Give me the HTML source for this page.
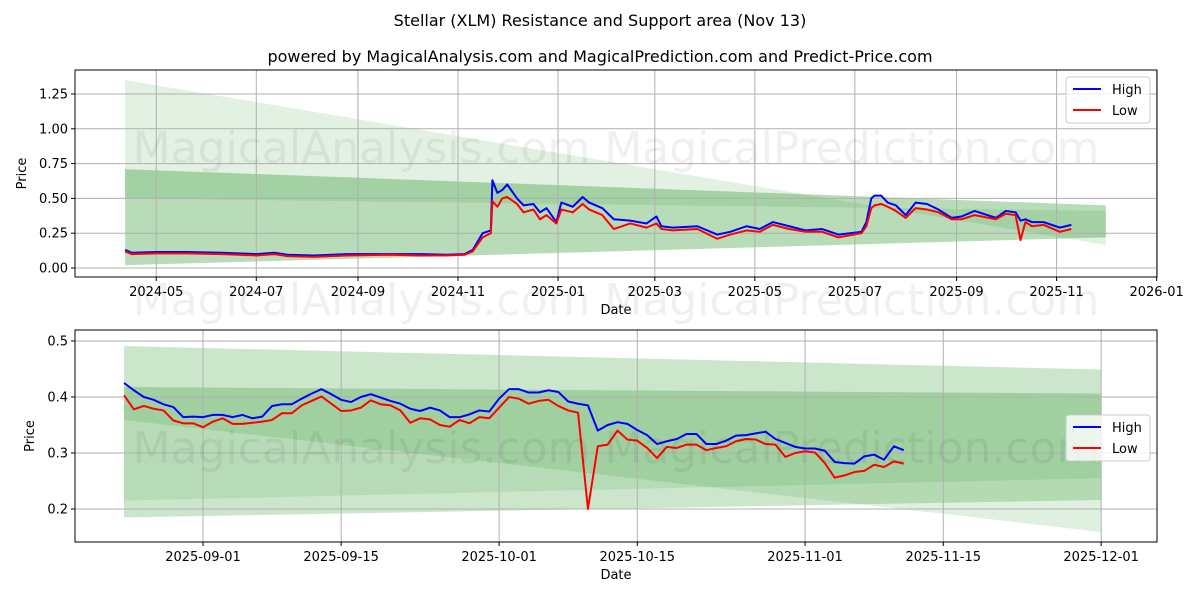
<!DOCTYPE html>
<html><head><meta charset="utf-8"><style>
body{margin:0;background:#fff;width:1200px;height:600px;overflow:hidden;font-family:"Liberation Sans","DejaVu Sans",sans-serif}
svg text{font-family:"DejaVu Sans","Liberation Sans",sans-serif}
</style></head><body>
<svg id="c" width="1200" height="600" xmlns="http://www.w3.org/2000/svg">
<text x="600" y="26" font-size="16" text-anchor="middle">Stellar (XLM) Resistance and Support area (Nov 13)</text>
<text x="600" y="62" font-size="16" text-anchor="middle">powered by MagicalAnalysis.com and MagicalPrediction.com and Predict-Price.com</text>
</svg>
<script>
// ---------- top chart data ----------
const topDates=["2024-04-12","2024-04-16","2024-05-01","2024-05-20","2024-06-10","2024-07-01","2024-07-12","2024-07-20","2024-08-05","2024-08-25","2024-09-20","2024-10-10","2024-10-25","2024-11-05","2024-11-10","2024-11-16","2024-11-21","2024-11-22","2024-11-25","2024-11-28","2024-12-01","2024-12-07","2024-12-11","2024-12-17","2024-12-21","2024-12-25","2024-12-31","2025-01-03","2025-01-10","2025-01-16","2025-01-20","2025-01-28","2025-02-04","2025-02-14","2025-02-24","2025-03-02","2025-03-05","2025-03-12","2025-03-27","2025-04-08","2025-04-16","2025-04-26","2025-05-04","2025-05-12","2025-05-22","2025-06-01","2025-06-11","2025-06-21","2025-07-05","2025-07-08","2025-07-11","2025-07-13","2025-07-17","2025-07-21","2025-07-26","2025-08-01","2025-08-07","2025-08-14","2025-08-21","2025-08-29","2025-09-04","2025-09-12","2025-09-25","2025-10-01","2025-10-07","2025-10-10","2025-10-13","2025-10-17","2025-10-24","2025-11-03","2025-11-10"];
const topHigh=[0.13,0.11,0.115,0.115,0.11,0.10,0.11,0.095,0.09,0.10,0.10,0.10,0.095,0.10,0.13,0.25,0.27,0.63,0.54,0.56,0.60,0.50,0.45,0.46,0.40,0.43,0.33,0.47,0.44,0.51,0.47,0.43,0.35,0.34,0.32,0.37,0.30,0.29,0.30,0.24,0.26,0.30,0.28,0.33,0.30,0.27,0.28,0.24,0.26,0.33,0.50,0.52,0.52,0.47,0.45,0.38,0.47,0.46,0.42,0.36,0.37,0.41,0.36,0.41,0.40,0.34,0.35,0.33,0.33,0.29,0.31];
const topLow=[0.12,0.10,0.105,0.105,0.10,0.09,0.10,0.085,0.08,0.09,0.095,0.09,0.09,0.095,0.12,0.22,0.25,0.48,0.44,0.50,0.51,0.46,0.40,0.42,0.35,0.38,0.32,0.42,0.40,0.46,0.42,0.38,0.28,0.32,0.29,0.32,0.28,0.27,0.28,0.21,0.24,0.27,0.26,0.31,0.28,0.26,0.26,0.22,0.25,0.30,0.43,0.45,0.46,0.44,0.41,0.36,0.43,0.42,0.40,0.35,0.35,0.38,0.35,0.39,0.38,0.20,0.33,0.30,0.31,0.26,0.28];
const topBandDates=["2024-04-12","2025-12-01"];
const topBandATop=[0.71,0.45], topBandABot=[0.02,0.22];
const topBandCL1=[1.35,0.165], topBandCL2=[0.50,0.41];
const topYTicks=[0,0.25,0.5,0.75,1.0,1.25];
const topYLabels=["0.00","0.25","0.50","0.75","1.00","1.25"];
const topXTicks=["2024-05-01","2024-07-01","2024-09-01","2024-11-01","2025-01-01","2025-03-01","2025-05-01","2025-07-01","2025-09-01","2025-11-01","2026-01-01"];
const topXLabels=["2024-05","2024-07","2024-09","2024-11","2025-01","2025-03","2025-05","2025-07","2025-09","2025-11","2026-01"];

// ---------- bottom chart data ----------
const botStart="2025-08-24";
const botHigh=[0.425,0.412,0.400,0.395,0.387,0.382,0.364,0.365,0.364,0.368,0.368,0.364,0.368,0.362,0.365,0.384,0.387,0.387,0.397,0.406,0.414,0.405,0.395,0.391,0.400,0.405,0.399,0.393,0.388,0.379,0.375,0.381,0.376,0.364,0.364,0.369,0.376,0.374,0.397,0.414,0.414,0.408,0.408,0.412,0.409,0.392,0.388,0.385,0.340,0.350,0.355,0.352,0.341,0.332,0.316,0.321,0.325,0.334,0.334,0.316,0.316,0.322,0.331,0.332,0.335,0.338,0.325,0.318,0.311,0.308,0.308,0.304,0.284,0.282,0.281,0.294,0.297,0.288,0.312,0.305];
const botLow=[0.403,0.378,0.384,0.379,0.376,0.358,0.353,0.353,0.346,0.356,0.362,0.352,0.352,0.354,0.356,0.359,0.371,0.371,0.385,0.393,0.401,0.388,0.375,0.376,0.381,0.394,0.387,0.385,0.376,0.354,0.362,0.360,0.350,0.347,0.359,0.353,0.364,0.362,0.381,0.400,0.397,0.388,0.393,0.395,0.384,0.376,0.372,0.200,0.312,0.315,0.340,0.324,0.322,0.309,0.291,0.311,0.309,0.315,0.315,0.305,0.309,0.312,0.321,0.325,0.324,0.316,0.315,0.293,0.300,0.303,0.301,0.282,0.256,0.260,0.266,0.268,0.279,0.275,0.285,0.281];
const botBandDates=["2025-08-24","2025-12-01"];
const botBandATop=[0.491,0.449], botBandABot=[0.185,0.216];
const botBandBTop=[0.418,0.406], botBandBBot=[0.215,0.255];
const botBandCL1=[0.418,0.406], botBandCL2=[0.359,0.159];
const botYTicks=[0.2,0.3,0.4,0.5];
const botYLabels=["0.2","0.3","0.4","0.5"];
const botXTicks=["2025-09-01","2025-09-15","2025-10-01","2025-10-15","2025-11-01","2025-11-15","2025-12-01"];

// ---------- rendering ----------
const svg=document.getElementById('c');
const NS="http://www.w3.org/2000/svg";
const DAY=86400000;
const t=s=>Date.parse(s+"T00:00:00Z");
function mk(tag,attrs,parent){const e=document.createElementNS(NS,tag);for(const k in attrs)e.setAttribute(k,attrs[k]);(parent||svg).appendChild(e);return e;}

function chart(cfg){
  const {L,R,T,B}=cfg;
  const X=d=>cfg.x0+(t(d)-t(cfg.d0))/DAY*cfg.pxDay;
  const Y=v=>cfg.yRef-(v-cfg.vRef)*cfg.pxUnit;
  const g=mk('g',{});
  
  
  const clip=mk('clipPath',{id:cfg.name+'-clip'},g);
  mk('rect',{x:L,y:T,width:R-L,height:B-T},clip);
  const pg=mk('g',{'clip-path':'url(#'+cfg.name+'-clip)'},g);
  const x1=X(cfg.bandDates[0]),x2=X(cfg.bandDates[1]);
  cfg.bands.forEach((b,i)=>{
    const p=mk('polygon',{points:`${x1},${Y(b.top[0])} ${x2},${Y(b.top[1])} ${x2},${Y(b.bot[1])} ${x1},${Y(b.bot[0])}`,fill:'#008000','fill-opacity':b.op},pg);
    
    
  });
  cfg.yTicks.forEach((v,i)=>{
    const y=Y(v);
    mk('line',{x1:L,x2:R,y1:y,y2:y,stroke:'#b0b0b0','stroke-width':1},pg);
    mk('line',{x1:L-4,x2:L,y1:y,y2:y,stroke:'#000'},g);
    const tx=mk('text',{x:L-7,y:y+4.5,'font-size':13,'text-anchor':'end'},g);tx.textContent=cfg.yLabels[i];
    
    
  });
  cfg.xTicks.forEach((d,i)=>{
    const x=X(d);
    mk('line',{x1:x,x2:x,y1:T,y2:B,stroke:'#b0b0b0','stroke-width':1},pg);
    mk('line',{x1:x,x2:x,y1:B,y2:B+4,stroke:'#000'},g);
    const tx=mk('text',{x:x,y:B+19,'font-size':13,'text-anchor':'middle'},g);tx.textContent=cfg.xLabels[i];
    
    
  });
  const wm=mk('text',{x:(L+R)/2,y:cfg.wmY,'font-size':44,'text-anchor':'middle',fill:'#000','fill-opacity':0.06},g);
  wm.textContent="MagicalAnalysis.com   MagicalPrediction.com";
  
  
  const series=[[cfg.high,'#0000ff','high-line'],[cfg.low,'#ff0000','low-line']];
  series.forEach(([vals,col,nm])=>{
    const pts=vals.map((v,i)=>`${X(cfg.dates(i))},${Y(v)}`).join(' ');
    const pl=mk('polyline',{points:pts,fill:'none',stroke:col,'stroke-width':2,'stroke-linejoin':'round'},pg);
    
    
  });
  mk('rect',{x:L,y:T,width:R-L,height:B-T,fill:'none',stroke:'#000','stroke-width':1},g);
  const yt=mk('text',{x:0,y:0,'font-size':13,'text-anchor':'middle',transform:`translate(${cfg.yTitleX},${(T+B)/2}) rotate(-90)`},g);
  yt.textContent='Price';
  
  
  const xt=mk('text',{x:(L+R)/2,y:B+37,'font-size':13,'text-anchor':'middle'},g);
  xt.textContent='Date';
  
  
  const lg=mk('g',{},g);
  
  
  mk('rect',{x:cfg.lgX,y:cfg.lgY,width:84,height:46,rx:3,fill:'#fff','fill-opacity':0.8,stroke:'#cccccc'},lg);
  [['High','#0000ff'],['Low','#ff0000']].forEach(([lab,col],i)=>{
    const yy=cfg.lgY+12+i*21;
    mk('line',{x1:cfg.lgX+7,x2:cfg.lgX+35,y1:yy,y2:yy,stroke:col,'stroke-width':2},lg);
    const tx=mk('text',{x:cfg.lgX+46,y:yy+5,'font-size':13},lg);tx.textContent=lab;
    
    
  });
}

chart({name:'top-chart',L:75,R:1157,T:70,B:277,x0:458,d0:"2024-11-01",pxDay:1.64,yRef:268,vRef:0,pxUnit:139.2,
  bandDates:topBandDates,
  bands:[{top:topBandATop,bot:topBandABot,op:0.28},{top:topBandCL1,bot:topBandCL2,op:0.11}],
  yTicks:topYTicks,yLabels:topYLabels,xTicks:topXTicks,xLabels:topXLabels,wmY:163,
  high:topHigh,low:topLow,dates:i=>topDates[i],yTitleX:26,lgX:1066,lgY:77});

chart({name:'bottom-chart',L:75,R:1157,T:330,B:542,x0:203,d0:"2025-09-01",pxDay:9.87,yRef:453,vRef:0.3,pxUnit:560,
  bandDates:botBandDates,
  bands:[{top:botBandATop,bot:botBandABot,op:0.2},{top:botBandBTop,bot:botBandBBot,op:0.1},{top:botBandCL1,bot:botBandCL2,op:0.12}],
  yTicks:botYTicks,yLabels:botYLabels,xTicks:botXTicks,xLabels:botXTicks,wmY:463,
  high:botHigh,low:botLow,dates:i=>new Date(t(botStart)+i*DAY).toISOString().slice(0,10),yTitleX:34,lgX:1066,lgY:415});

const wm2=mk('text',{x:616,y:315,'font-size':44,'text-anchor':'middle',fill:'#000','fill-opacity':0.06});
wm2.textContent="MagicalAnalysis.com   MagicalPrediction.com";


</script>
</body></html>
